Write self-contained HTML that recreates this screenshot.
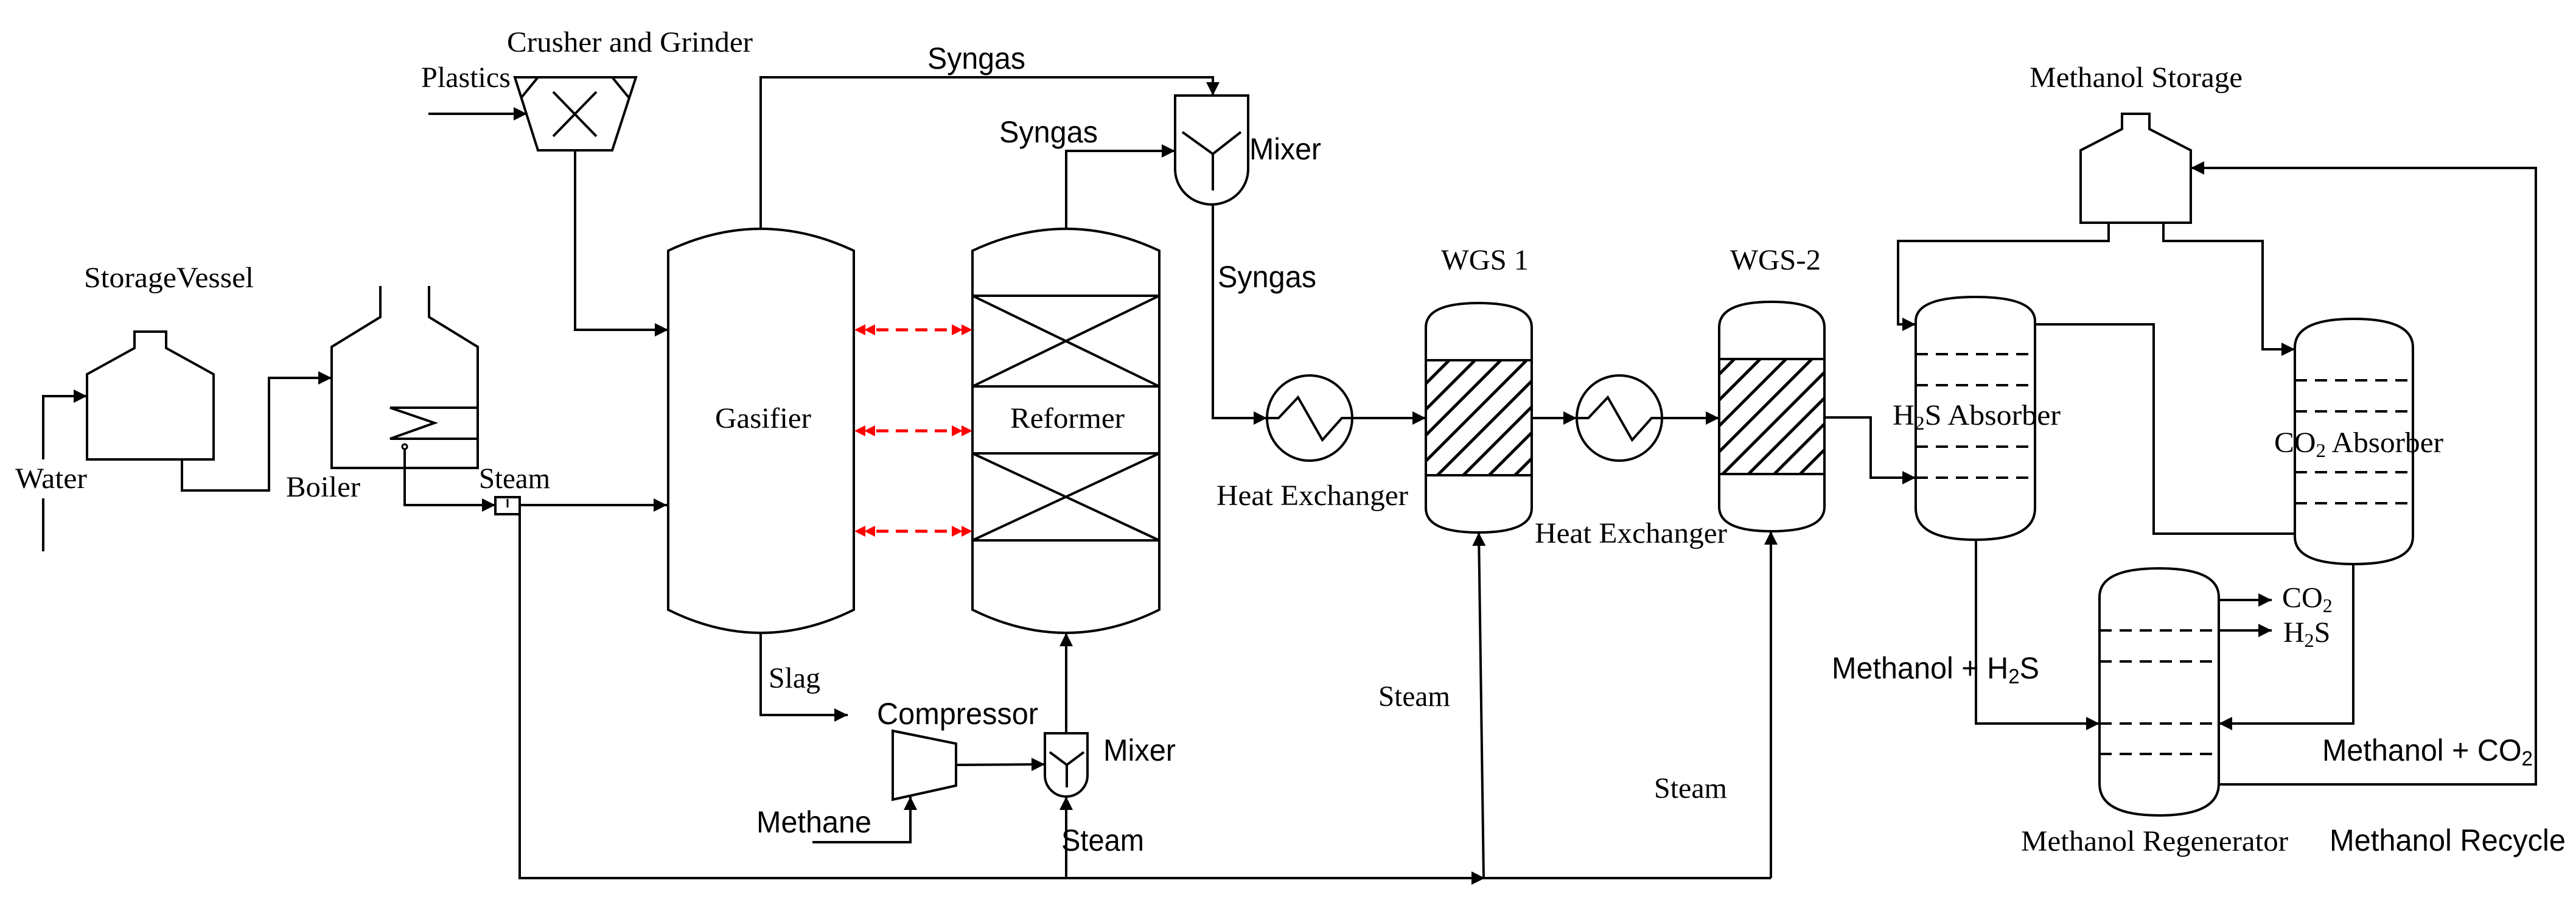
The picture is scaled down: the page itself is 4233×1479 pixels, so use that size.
<!DOCTYPE html>
<html><head><meta charset="utf-8"><style>
html,body{margin:0;padding:0;background:#fff;}
svg{display:block;}
.s{font-family:"Liberation Serif",serif;font-size:48px;fill:#000;}
.a{font-family:"Liberation Sans",sans-serif;font-size:50px;fill:#000;}
</style></head><body>
<svg width="4233" height="1479" viewBox="0 0 4233 1479" xmlns="http://www.w3.org/2000/svg">
<defs>
<marker id="A" viewBox="0 0 10 10" refX="10" refY="5" markerWidth="22" markerHeight="22" markerUnits="userSpaceOnUse" orient="auto"><path d="M0,0 L10,5 L0,10 z" fill="#000"/></marker>
<pattern id="h" patternUnits="userSpaceOnUse" width="30" height="30" patternTransform="rotate(45)"><rect width="30" height="30" fill="#fff"/><rect x="0" y="0" width="5" height="30" fill="#000"/></pattern>
</defs>
<g fill="none" stroke="#000" stroke-width="4">
<path d="M143,755 L143,615 L221,572 L221,545 L273,545 L273,572 L351,615 L351,755 Z"/>
<path d="M71,906 L71,819 M71,755 L71,651 L143,651" marker-end="url(#A)"/>
<path d="M299,755 L299,806 L442,806 L442,621 L545,621" marker-end="url(#A)"/>
<path d="M625,470 L625,521 L545,570 L545,769 L785,769 L785,570 L705,521 L705,470"/>
<path d="M785,670 L641,670 L714,695 L641,721 L785,721"/>
<circle cx="665" cy="734" r="4" stroke-width="3"/>
<path d="M665,738 L665,830 L814,830" marker-end="url(#A)"/>
<rect x="814" y="817" width="40" height="28"/>
<path d="M834,820 L834,834" stroke-width="3"/>
<path d="M854,830 L1096,830" marker-end="url(#A)"/>
<path d="M854,845 L854,1443 L2910,1443"/>
<path d="M846,127 L1045,127 L1006,247 L884,247 Z"/>
<path d="M884,127 L857,160 M1006,127 L1033,160 M909,151 L980,224 M980,151 L909,224"/>
<path d="M704,187 L866,187" marker-end="url(#A)"/>
<path d="M945,247 L945,542 L1098,542" marker-end="url(#A)"/>
<path d="M1098,412 Q1250,340 1403,412 L1403,1002 Q1250,1078 1098,1002 Z"/>
<path d="M1250,377 L1250,127 L1993,127 L1993,157" marker-end="url(#A)"/>
<path d="M1250,1040 L1250,1175 L1393,1175" marker-end="url(#A)"/>
<path d="M1598,412 Q1752,340 1905,412 L1905,1002 Q1752,1078 1598,1002 Z"/>
<path d="M1598,486 L1905,486 M1598,635 L1905,635 M1598,745 L1905,745 M1598,888 L1905,888"/>
<path d="M1598,486 L1905,635 M1905,486 L1598,635 M1598,745 L1905,888 M1905,745 L1598,888"/>
<path d="M1752,377 L1752,248 L1931,248" marker-end="url(#A)"/>
<path d="M1931,157 L2051,157 L2051,278 A60,58 0 0 1 1931,278 Z"/>
<path d="M1943,217 L1993,253 L2039,217 M1993,253 L1993,313"/>
<path d="M1993,336 L1993,687 L2082,687" marker-end="url(#A)"/>
<circle cx="2152" cy="687" r="70"/>
<path d="M2082,687 L2101,687 L2133,653 L2173,723 L2205,687 L2222,687"/>
<path d="M2222,687 L2343,687" marker-end="url(#A)"/>
<rect x="2343" y="592" width="174" height="189" fill="url(#h)" stroke="none"/>
<path d="M2343,538 Q2343,498 2430,498 Q2517,498 2517,538 L2517,835 Q2517,875 2430,875 Q2343,875 2343,835 Z"/>
<path d="M2343,592 L2517,592 M2343,781 L2517,781"/>
<path d="M2517,687 L2591,687" marker-end="url(#A)"/>
<circle cx="2661" cy="687" r="70"/>
<path d="M2591,687 L2610,687 L2642,653 L2682,723 L2714,687 L2731,687"/>
<path d="M2731,687 L2825,687" marker-end="url(#A)"/>
<rect x="2825" y="590" width="173" height="189" fill="url(#h)" stroke="none"/>
<path d="M2825,538 Q2825,496 2911,496 Q2998,496 2998,538 L2998,833 Q2998,873 2911,873 Q2825,873 2825,833 Z"/>
<path d="M2825,590 L2998,590 M2825,779 L2998,779"/>
<path d="M2998,686 L3074,686 L3074,785 L3148,785" marker-end="url(#A)"/>
<path d="M2438,1443 L2430,875" marker-end="url(#A)"/>
<path d="M2400,1443 L2440,1443" marker-end="url(#A)"/>
<path d="M2910,1443 L2910,873" marker-end="url(#A)"/>
<path d="M1752,1443 L1752,1309" marker-end="url(#A)"/>
<path d="M1752,1205 L1752,1040" marker-end="url(#A)"/>
<path d="M1717,1205 L1787,1205 L1787,1274 A35,35 0 0 1 1717,1274 Z"/>
<path d="M1725,1236 L1753,1257 L1781,1236 M1753,1257 L1753,1294"/>
<path d="M1467,1201 L1571,1222 L1571,1291 L1467,1314 Z"/>
<path d="M1571,1257 L1717,1256" marker-end="url(#A)"/>
<path d="M1335,1384 L1496,1384 L1496,1309" marker-end="url(#A)"/>
<path d="M3148,528 Q3148,488 3246,488 Q3344,488 3344,528 L3344,835 Q3344,887 3246,887 Q3148,887 3148,835 Z"/>
<path d="M3148,582 L3344,582 M3148,633 L3344,633 M3148,734 L3344,734 M3148,785 L3344,785" stroke-dasharray="20,13"/>
<path d="M3419,366 L3419,247 L3487,212 L3487,187 L3532,187 L3532,212 L3600,247 L3600,366 Z"/>
<path d="M3465,366 L3465,396 L3119,396 L3119,533 L3148,533" marker-end="url(#A)"/>
<path d="M3555,366 L3555,396 L3718,396 L3718,574 L3771,574" marker-end="url(#A)"/>
<path d="M3771,571 Q3771,524 3868,524 Q3965,524 3965,571 L3965,882 Q3965,927 3868,927 Q3771,927 3771,882 Z"/>
<path d="M3771,625 L3965,625 M3771,676 L3965,676 M3771,776 L3965,776 M3771,827 L3965,827" stroke-dasharray="20,13"/>
<path d="M3344,533 L3539,533 L3539,877 L3771,877"/>
<path d="M3450,981 Q3450,934 3548,934 Q3646,934 3646,981 L3646,1288 Q3646,1340 3548,1340 Q3450,1340 3450,1288 Z"/>
<path d="M3450,1036 L3646,1036 M3450,1087 L3646,1087 M3450,1189 L3646,1189 M3450,1239 L3646,1239" stroke-dasharray="20,13"/>
<path d="M3247,887 L3247,1189 L3450,1189" marker-end="url(#A)"/>
<path d="M3867,927 L3867,1189 L3646,1189" marker-end="url(#A)"/>
<path d="M3646,986 L3733,986" marker-end="url(#A)"/>
<path d="M3646,1036 L3733,1036" marker-end="url(#A)"/>
<path d="M3646,1289 L4167,1289 L4167,276 L3600,276" marker-end="url(#A)"/>
</g>
<g stroke="#f00" stroke-width="5" fill="none" stroke-dasharray="20,12">
<path d="M1440,542 L1562,542"/><path d="M1440,708 L1562,708"/><path d="M1440,873 L1562,873"/>
</g>
<g fill="#f00">
<path d="M1404,542 L1422,533 L1422,551 Z M1420,542 L1438,533 L1438,551 Z M1598,542 L1580,533 L1580,551 Z M1582,542 L1564,533 L1564,551 Z"/>
<path d="M1404,708 L1422,699 L1422,717 Z M1420,708 L1438,699 L1438,717 Z M1598,708 L1580,699 L1580,717 Z M1582,708 L1564,699 L1564,717 Z"/>
<path d="M1404,873 L1422,864 L1422,882 Z M1420,873 L1438,864 L1438,882 Z M1598,873 L1580,864 L1580,882 Z M1582,873 L1564,864 L1564,882 Z"/>
</g>
<text class="s" x="833" y="85" textLength="404" lengthAdjust="spacingAndGlyphs">Crusher and Grinder</text>
<text class="s" x="692" y="143" textLength="147" lengthAdjust="spacingAndGlyphs">Plastics</text>
<text class="s" x="138" y="472" textLength="279" lengthAdjust="spacingAndGlyphs">StorageVessel</text>
<text class="s" x="25" y="802" textLength="118" lengthAdjust="spacingAndGlyphs">Water</text>
<text class="s" x="470" y="816" textLength="122" lengthAdjust="spacingAndGlyphs">Boiler</text>
<text class="s" x="787" y="802" textLength="117" lengthAdjust="spacingAndGlyphs">Steam</text>
<text class="s" x="1175" y="703" textLength="158" lengthAdjust="spacingAndGlyphs">Gasifier</text>
<text class="s" x="1263" y="1130" textLength="85" lengthAdjust="spacingAndGlyphs">Slag</text>
<text class="s" x="1660" y="703" textLength="188" lengthAdjust="spacingAndGlyphs">Reformer</text>
<text class="a" x="1524" y="113" textLength="161" lengthAdjust="spacingAndGlyphs">Syngas</text>
<text class="a" x="1642" y="234" textLength="162" lengthAdjust="spacingAndGlyphs">Syngas</text>
<text class="a" x="2053" y="262" textLength="118" lengthAdjust="spacingAndGlyphs">Mixer</text>
<text class="a" x="2001" y="472" textLength="162" lengthAdjust="spacingAndGlyphs">Syngas</text>
<text class="s" x="2368" y="443" textLength="144" lengthAdjust="spacingAndGlyphs">WGS 1</text>
<text class="s" x="2843" y="443" textLength="149" lengthAdjust="spacingAndGlyphs">WGS-2</text>
<text class="s" x="1999" y="830" textLength="315" lengthAdjust="spacingAndGlyphs">Heat Exchanger</text>
<text class="s" x="2522" y="892" textLength="316" lengthAdjust="spacingAndGlyphs">Heat Exchanger</text>
<text class="s" x="2265" y="1160" textLength="118" lengthAdjust="spacingAndGlyphs">Steam</text>
<text class="s" x="2718" y="1311" textLength="120" lengthAdjust="spacingAndGlyphs">Steam</text>
<text class="a" x="1441" y="1190" textLength="265" lengthAdjust="spacingAndGlyphs">Compressor</text>
<text class="a" x="1813" y="1250" textLength="119" lengthAdjust="spacingAndGlyphs">Mixer</text>
<text class="a" x="1243" y="1368" textLength="189" lengthAdjust="spacingAndGlyphs">Methane</text>
<text class="a" x="1744" y="1398" textLength="136" lengthAdjust="spacingAndGlyphs">Steam</text>
<text class="s" x="3335" y="143" textLength="350" lengthAdjust="spacingAndGlyphs">Methanol Storage</text>
<text class="s" x="3110" y="698" textLength="276" lengthAdjust="spacingAndGlyphs">H<tspan font-size="32" dy="8">2</tspan><tspan dy="-8">S Absorber</tspan></text>
<text class="s" x="3737" y="743" textLength="278" lengthAdjust="spacingAndGlyphs">CO<tspan font-size="32" dy="8">2</tspan><tspan dy="-8"> Absorber</tspan></text>
<text class="s" x="3750" y="998">CO<tspan font-size="32" dy="8">2</tspan></text>
<text class="s" x="3752" y="1055">H<tspan font-size="32" dy="8">2</tspan><tspan dy="-8">S</tspan></text>
<text class="a" x="3010" y="1115" textLength="341" lengthAdjust="spacingAndGlyphs">Methanol + H<tspan font-size="34" dy="8">2</tspan><tspan dy="-8">S</tspan></text>
<text class="a" x="3816" y="1250" textLength="346" lengthAdjust="spacingAndGlyphs">Methanol + CO<tspan font-size="34" dy="8">2</tspan></text>
<text class="s" x="3321" y="1398" textLength="439" lengthAdjust="spacingAndGlyphs">Methanol Regenerator</text>
<text class="a" x="3828" y="1398" textLength="388" lengthAdjust="spacingAndGlyphs">Methanol Recycle</text>
</svg>
</body></html>
